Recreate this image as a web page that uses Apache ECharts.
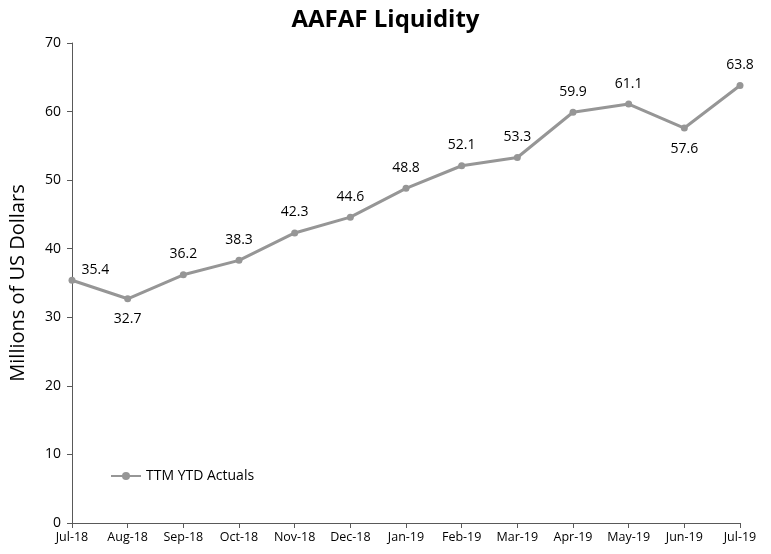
<!DOCTYPE html>
<html>
<head>
<meta charset="utf-8">
<script src="https://cdn.jsdelivr.net/npm/echarts@6/dist/echarts.min.js"></script>
<style>
  html, body { margin: 0; padding: 0; background: #fff; }
  #main { width: 771px; height: 554px; }
</style>
</head>
<body>
<div id="main"></div>
<script>
// data
const months = ["Jul-18", "Aug-18", "Sep-18", "Oct-18", "Nov-18", "Dec-18", "Jan-19",
  "Feb-19", "Mar-19", "Apr-19", "May-19", "Jun-19", "Jul-19"];
const liquidity = [35.4, 32.7, 36.2, 38.3, 42.3, 44.6, 48.8, 52.1, 53.3, 59.9, 61.1, 57.6, 63.8];
const labelPos = ["right", "bottom", "top", "top", "top", "top", "top",
  "top", "top", "top", "top", "bottom", "top"];

const font = "Open Sans";

let chart = echarts.init(document.getElementById("main"));

let seriesData = liquidity.map(function (v, i) {
  let lbl = { position: labelPos[i] };
  if (i === 0) {
    // first label sits up and to the right of its point
    lbl.offset = [-4, -10];
  }
  return { value: v, label: lbl };
});

let option = {
  animation: false,
  title: {
    text: "AAFAF Liquidity",
    left: "center",
    top: 3,
    textStyle: { fontFamily: font, fontSize: 24, fontWeight: "bold", color: "#000" },
  },
  legend: {
    left: 105,
    top: 464,
    itemWidth: 30,
    itemHeight: 10,
    textStyle: { fontFamily: font, fontSize: 14, color: "#000" },
    data: ["TTM YTD Actuals"],
  },
  grid: { left: 70, right: 31, top: 43, bottom: 31 },
  xAxis: {
    type: "category",
    data: months,
    boundaryGap: false,
    axisLine: { lineStyle: { color: "#595959", width: 1 } },
    axisTick: { alignWithLabel: true, length: 5, lineStyle: { color: "#595959" } },
    axisLabel: { interval: 0, color: "#000", fontFamily: font, fontSize: 12.5, margin: 8 },
  },
  yAxis: {
    type: "value",
    min: 0,
    max: 70,
    interval: 10,
    name: "Millions of US Dollars",
    nameLocation: "middle",
    nameGap: 44,
    nameTextStyle: { fontFamily: font, fontSize: 20, color: "#000" },
    axisLine: { show: true, lineStyle: { color: "#595959", width: 1 } },
    axisTick: { show: true, length: 5, lineStyle: { color: "#595959" } },
    splitLine: { show: false },
    axisLabel: { color: "#000", fontFamily: font, fontSize: 14, margin: 11 },
  },
  series: [
    {
      name: "TTM YTD Actuals",
      type: "line",
      data: seriesData,
      symbol: "circle",
      symbolSize: 7,
      lineStyle: { color: "#969696", width: 3 },
      itemStyle: { color: "#969696" },
      label: {
        show: true,
        distance: 10,
        color: "#000",
        fontFamily: font,
        fontSize: 14,
      },
    },
  ],
};
chart.setOption(option);
</script>
</body>
</html>
